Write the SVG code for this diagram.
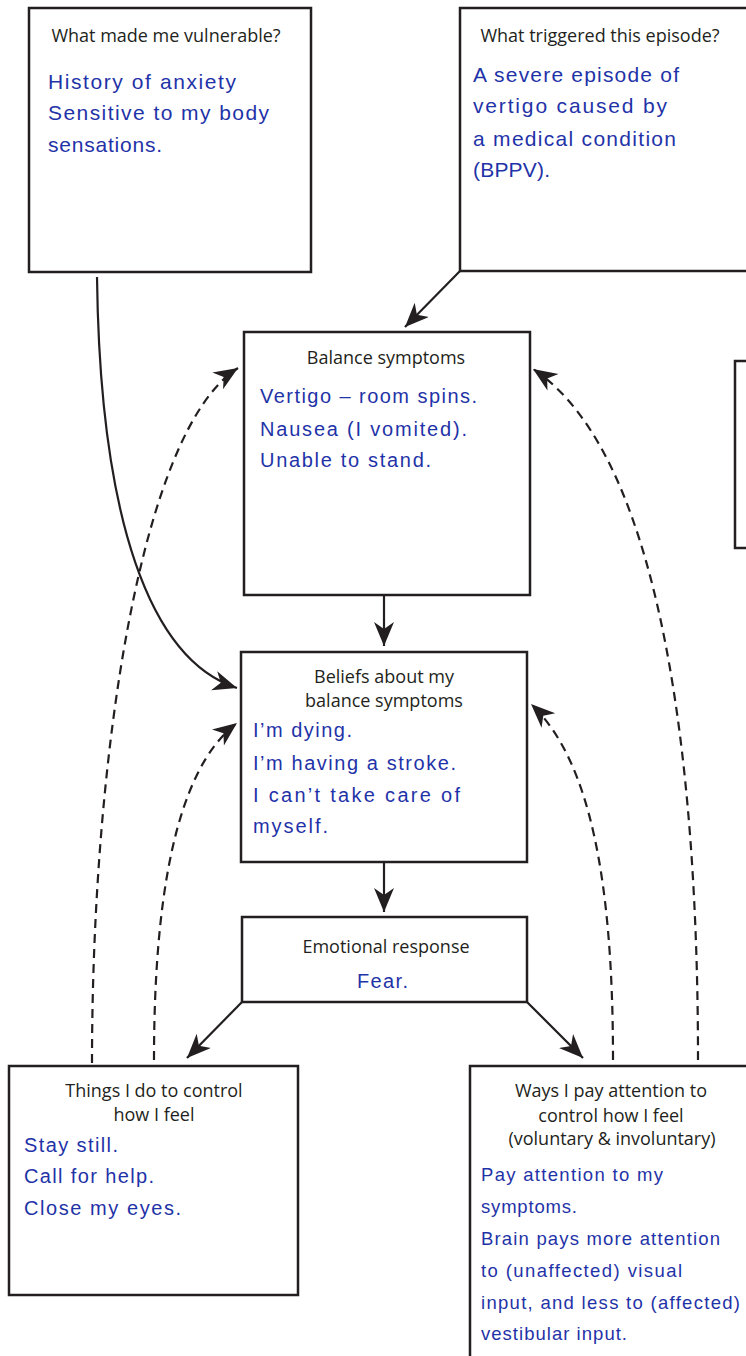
<svg xmlns="http://www.w3.org/2000/svg" width="746" height="1356" viewBox="0 0 746 1356">
<defs>
<style>
.box{fill:#fff;stroke:#231f20;stroke-width:2.5}
.t{font-family:"Open Sans","Liberation Sans",sans-serif;font-size:18px;fill:#231f20;text-anchor:middle}
.h{font-family:"Liberation Sans",Arial,sans-serif;font-size:21px;fill:#1f33a8}
.h2{font-size:20px}
.h3{font-size:18.5px}
.c{fill:none;stroke:#231f20;stroke-width:2.2}
.d{stroke-dasharray:9 6}
</style>
<marker id="ah" markerUnits="userSpaceOnUse" markerWidth="26" markerHeight="22" refX="24" refY="10" orient="auto" viewBox="0 0 26 22">
<path d="M0,0 L24,10 L0,20 L7,10 Z" fill="#231f20"/>
</marker>
</defs>
<rect width="746" height="1356" fill="#fff"/>

<g id="connectors">
<path class="c" d="M97,277 C100,520 150,660 237,688" marker-end="url(#ah)"/>
<path class="c" d="M460,271 L405,327" marker-end="url(#ah)"/>
<path class="c" d="M384,596 L384,646" marker-end="url(#ah)"/>
<path class="c" d="M384,863 L384,912" marker-end="url(#ah)"/>
<path class="c" d="M242,1002 L187,1058" marker-end="url(#ah)"/>
<path class="c" d="M527,1002 L583,1058" marker-end="url(#ah)"/>
<path class="c d" d="M92,1063 C92,760 140,430 238,368" marker-end="url(#ah)"/>
<path class="c d" d="M154,1060 C154,900 175,770 237,723" marker-end="url(#ah)"/>
<path class="c d" d="M698,1060 C698,800 670,460 533,369" marker-end="url(#ah)"/>
<path class="c d" d="M613,1060 C613,880 590,760 531,704" marker-end="url(#ah)"/>
</g>

<g id="vulnerable">
<rect class="box" x="29" y="8" width="282" height="264"/>
<text class="t" x="166" y="42">What made me vulnerable?</text>
<text class="h" x="48" y="89" textLength="188">History of anxiety</text>
<text class="h" x="48" y="120" textLength="221">Sensitive to my body</text>
<text class="h" x="48" y="152" textLength="114">sensations.</text>
</g>

<g id="trigger">
<rect class="box" x="460" y="8" width="290" height="263"/>
<text class="t" x="600" y="42">What triggered this episode?</text>
<text class="h" x="473" y="82" textLength="206">A severe episode of</text>
<text class="h" x="473" y="113" textLength="194">vertigo caused by</text>
<text class="h" x="473" y="146" textLength="203">a medical condition</text>
<text class="h" x="473" y="177" textLength="77">(BPPV).</text>
</g>

<g id="partial">
<rect class="box" x="735" y="361" width="30" height="187"/>
</g>

<g id="balance">
<rect class="box" x="244" y="332" width="286" height="263"/>
<text class="t" x="386" y="364">Balance symptoms</text>
<text class="h h2" x="260" y="403" textLength="217">Vertigo – room spins.</text>
<text class="h h2" x="260" y="436" textLength="207">Nausea (I vomited).</text>
<text class="h h2" x="260" y="467" textLength="171">Unable to stand.</text>
</g>

<g id="beliefs">
<rect class="box" x="241" y="652" width="286" height="210"/>
<text class="t" x="384" y="683">Beliefs about my</text>
<text class="t" x="384" y="707">balance symptoms</text>
<text class="h h2" x="253" y="737" textLength="99">I’m dying.</text>
<text class="h h2" x="253" y="770" textLength="203">I’m having a stroke.</text>
<text class="h h2" x="253" y="802" textLength="207">I can’t take care of</text>
<text class="h h2" x="253" y="833" textLength="75">myself.</text>
</g>

<g id="emotional">
<rect class="box" x="242" y="917" width="285" height="85"/>
<text class="t" x="386" y="953">Emotional response</text>
<text class="h h2" x="357" y="988" textLength="51">Fear.</text>
</g>

<g id="things">
<rect class="box" x="9" y="1066" width="289" height="229"/>
<text class="t" x="154" y="1097">Things I do to control</text>
<text class="t" x="154" y="1121">how I feel</text>
<text class="h h2" x="24" y="1152" textLength="94">Stay still.</text>
<text class="h h2" x="24" y="1183" textLength="130">Call for help.</text>
<text class="h h2" x="24" y="1215" textLength="157">Close my eyes.</text>
</g>

<g id="ways">
<rect class="box" x="470" y="1066" width="300" height="320"/>
<text class="t" x="611" y="1097">Ways I pay attention to</text>
<text class="t" x="611" y="1122">control how I feel</text>
<text class="t" x="612" y="1145">(voluntary &amp; involuntary)</text>
<text class="h h3" x="481" y="1181" textLength="182">Pay attention to my</text>
<text class="h h3" x="481" y="1213" textLength="96">symptoms.</text>
<text class="h h3" x="481" y="1245" textLength="239">Brain pays more attention</text>
<text class="h h3" x="481" y="1277" textLength="201">to (unaffected) visual</text>
<text class="h h3" x="481" y="1309" textLength="259">input, and less to (affected)</text>
<text class="h h3" x="481" y="1340" textLength="146">vestibular input.</text>
</g>
</svg>
